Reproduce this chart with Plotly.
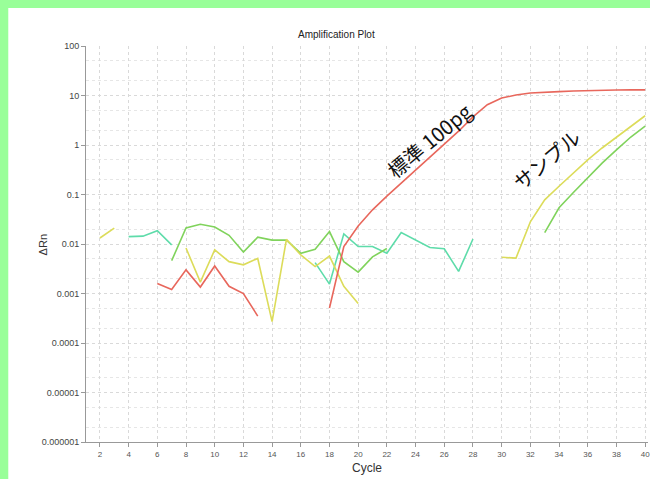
import plotly.graph_objects as go

cycles = list(range(1, 41))

standard_red = [None, None, None, None, None,
                0.0016, 0.0012, 0.003, 0.00135, 0.0036, 0.0014, 0.001, 0.00035,
                None, None, None, None,
                0.00051, 0.0089, 0.023, 0.049, 0.093, 0.17, 0.30, 0.55, 1.0, 1.9,
                3.7, 6.5, 8.9, 10.2, 11.2, 11.7, 12.0, 12.3, 12.6, 12.9, 12.9, 13.0, 13.0]

sample_yellow = [None, 0.0132, 0.021, None, None, None, None,
                 0.0083, 0.0017, 0.0076, 0.0044, 0.0038, 0.0051, 0.00027, 0.0124,
                 0.006, 0.0035, 0.0057, 0.0014, 0.00063,
                 None, None, None, None, None, None, None, None, None,
                 0.0054, 0.0052, 0.028, 0.078, 0.147, 0.27, 0.50, 0.87, 1.45, 2.4, 3.9]

sample_green = [None, None, None, None, None, None,
                0.0046, 0.021, 0.025, 0.022, 0.015, 0.0069, 0.0137, 0.012, 0.012,
                0.0065, 0.0078, 0.0178, 0.0044, 0.0027, 0.0055, 0.0081,
                None, None, None, None, None, None, None, None, None, None,
                0.017, 0.054, 0.11, 0.22, 0.43, 0.8, 1.45, 2.4]

ntc_teal = [None, None, None,
            0.0141, 0.0144, 0.0185, 0.0096,
            None, None, None, None, None, None, None, None, None,
            0.0042, 0.00155, 0.016, 0.0089, 0.0089, 0.0065, 0.017, 0.012, 0.0085,
            0.008, 0.0028, 0.0126,
            None, None, None, None, None, None, None, None, None, None, None, None]

y_tickvals = [1e-6, 1e-5, 1e-4, 1e-3, 1e-2, 1e-1, 1, 10, 100]
y_ticktext = ["0.000001", "0.00001", "0.0001", "0.001", "0.01", "0.1", "1", "10", "100"]
x_tickvals = list(range(2, 41, 2))

fig = go.Figure()
for name, ys, col in [("NTC", ntc_teal, "#5edcaa"),
                      ("Sample B", sample_green, "#80d35c"),
                      ("Sample A", sample_yellow, "#dcdc5a"),
                      ("Standard 100pg", standard_red, "#e8675c")]:
    fig.add_trace(go.Scatter(x=cycles, y=ys, mode="lines", name=name,
                             connectgaps=False,
                             line=dict(color=col, width=1.6)))

grid_col = "#d9d9d9"
fig.update_layout(
    width=650, height=479,
    margin=dict(l=86, r=0, t=46, b=37),
    paper_bgcolor="#99ff99",
    plot_bgcolor="white",
    showlegend=False,
    font=dict(family="Liberation Sans, Arial, sans-serif", color="#444"),
    xaxis=dict(range=[1.03, 40.2], tickvals=x_tickvals,
               ticks="outside", ticklen=4, tickcolor="#999",
               tickfont=dict(size=8, color="#555"),
               ticklabeloverflow="allow",
               showline=True, linecolor="#999", linewidth=1,
               showgrid=True, gridcolor=grid_col, griddash="dot", gridwidth=1,
               zeroline=False),
    yaxis=dict(type="log", range=[-6, 2], tickvals=y_tickvals, ticktext=y_ticktext,
               ticks="outside", ticklen=4, tickcolor="#999",
               tickfont=dict(size=9, color="#444"),
               showline=True, linecolor="#999", linewidth=1,
               showgrid=True, gridcolor=grid_col, griddash="dot", gridwidth=1,
               minor=dict(showgrid=True, gridcolor="#e6e6e6", griddash="dot",
                          gridwidth=1, ticks=""),
               zeroline=False),
    shapes=[dict(type="rect", xref="paper", yref="paper",
                 x0=-0.1383, x1=1.05, y0=-0.2, y1=1.096,
                 fillcolor="white", line=dict(width=0), layer="below")],
    annotations=[
        dict(text="Amplification Plot", xref="paper", yref="paper",
             x=0.445, y=1.028, showarrow=False, yanchor="middle",
             font=dict(size=10, color="#222")),
        dict(text="ΔRn", xref="paper", yref="paper", x=-0.0904, y=0.497,
             showarrow=False, textangle=-90, font=dict(size=11, color="#333")),
        dict(text="Cycle", xref="paper", yref="paper", x=0.5, y=-0.0657,
             showarrow=False, yanchor="middle", font=dict(size=12, color="#333")),
        dict(text="標準 100pg", x=24.9, y=0.10, xref="x", yref="y",
             showarrow=False, textangle=-40,
             font=dict(size=20, color="#111", family="Noto Sans CJK JP")),
        dict(text="サンプル", x=33.1, y=-0.30, xref="x", yref="y",
             showarrow=False, textangle=-40,
             font=dict(size=20, color="#111", family="Noto Sans CJK JP")),
    ],
)

fig.write_html("out.html",
               config={"displayModeBar": False},
               post_script="document.body.style.margin='0';document.body.style.padding='0';")
